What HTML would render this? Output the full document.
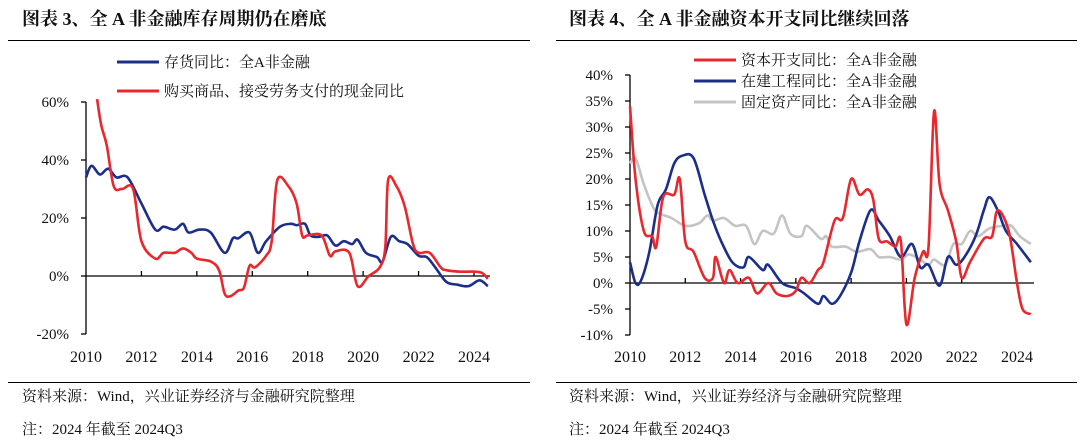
<!DOCTYPE html>
<html><head><meta charset="utf-8"><style>
body{margin:0;background:#fff;width:1080px;height:441px;overflow:hidden}
svg text{font-family:"Liberation Serif","Noto Serif CJK SC","Noto Sans CJK SC",serif;fill:#111}
</style></head><body>
<svg id="s" width="1080" height="441" xmlns="http://www.w3.org/2000/svg">
<text x="22" y="25" font-size="18" font-weight="bold">图表 3、全 A 非金融库存周期仍在磨底</text>
<text x="569" y="25" font-size="18" font-weight="bold">图表 4、全 A 非金融资本开支同比继续回落</text>
<line x1="8" y1="40.5" x2="530" y2="40.5" stroke="#000" stroke-width="1"/>
<line x1="556" y1="40.5" x2="1077" y2="40.5" stroke="#000" stroke-width="1"/>
<line x1="8" y1="382.5" x2="530" y2="382.5" stroke="#000" stroke-width="1"/>
<line x1="556" y1="382.5" x2="1077" y2="382.5" stroke="#000" stroke-width="1"/>
<text x="22" y="401" font-size="15">资料来源：Wind，兴业证券经济与金融研究院整理</text>
<text x="22" y="434" font-size="15">注：2024 年截至 2024Q3</text>
<text x="569" y="401" font-size="15">资料来源：Wind，兴业证券经济与金融研究院整理</text>
<text x="569" y="434" font-size="15">注：2024 年截至 2024Q3</text>
<!-- legends -->
<line x1="117" y1="62" x2="159" y2="62" stroke="#1b2f8a" stroke-width="3"/>
<text x="164" y="67" font-size="15">存货同比：全A非金融</text>
<line x1="117" y1="91" x2="159" y2="91" stroke="#e8282c" stroke-width="3"/>
<text x="164" y="96" font-size="15">购买商品、接受劳务支付的现金同比</text>
<line x1="694" y1="60" x2="736" y2="60" stroke="#e8282c" stroke-width="3"/>
<text x="741" y="65" font-size="15">资本开支同比：全A非金融</text>
<line x1="694" y1="81" x2="736" y2="81" stroke="#1b2f8a" stroke-width="3"/>
<text x="741" y="86" font-size="15">在建工程同比：全A非金融</text>
<line x1="694" y1="102" x2="736" y2="102" stroke="#c4c4c4" stroke-width="3"/>
<text x="741" y="107" font-size="15">固定资产同比：全A非金融</text>
<g id="g"></g>
</svg>
<script>
var g=document.getElementById('g'),NS='http://www.w3.org/2000/svg';
function el(t,a,txt){var e=document.createElementNS(NS,t);for(var k in a)e.setAttribute(k,a[k]);if(txt!=null)e.textContent=txt;g.appendChild(e);return e;}
function chart(c){
 var X=function(yr){return c.x0+(yr-2010)*(c.x1-c.x0)/14;};
 var Y=function(v){return c.y0-v*c.k;};
 el('line',{x1:c.x0,y1:Y(c.vmax),x2:c.x0,y2:Y(c.vmin),stroke:'#000','stroke-width':1.3});
 for(var v=c.vmin;v<=c.vmax;v+=c.step){el('line',{x1:c.x0-5,y1:Y(v),x2:c.x0,y2:Y(v),stroke:'#000','stroke-width':1.3});
  el('text',{x:c.x0-17,y:Y(v)+5,'font-size':15,'text-anchor':'end'},v+'%');}
 el('line',{x1:c.x0,y1:Y(0),x2:c.xe,y2:Y(0),stroke:'#000','stroke-width':1.3});
 for(var yr=2010;yr<=2024;yr+=2){if(yr>2010)el('line',{x1:X(yr),y1:Y(0),x2:X(yr),y2:Y(0)-5,stroke:'#000','stroke-width':1.3});
  el('text',{x:X(yr),y:c.ly,'font-size':16,'text-anchor':'middle'},yr);}
 c.series.forEach(function(s){
  var p=[];for(var i=0;i<s.d.length;i+=2)p.push([X(s.d[i]),Y(s.d[i+1])]);
  var d='M'+p[0][0]+','+p[0][1];
  for(i=0;i<p.length-1;i++){var a=p[Math.max(i-1,0)],b=p[i],e=p[i+1],f=p[Math.min(i+2,p.length-1)];
   d+=' C'+(b[0]+(e[0]-a[0])/6)+','+(b[1]+(e[1]-a[1])/6)+' '+(e[0]-(f[0]-b[0])/6)+','+(e[1]-(f[1]-b[1])/6)+' '+e[0]+','+e[1];}
  el('path',{d:d,fill:'none',stroke:s.c,'stroke-width':2.6,'stroke-linejoin':'round'});
 });
}
var RED='#e8282c',BLUE='#1b2f8a',GRAY='#c4c4c4';
chart({x0:86,x1:474,xe:490,y0:276,k:2.9,vmin:-20,vmax:60,step:20,ly:362,series:[
 {c:BLUE,d:[2010,34,2010.2,38,2010.5,35,2010.8,37,2011.1,34,2011.5,34,2012,25,2012.5,16,2012.8,17,2013.2,16,2013.5,18,2013.7,15,2014.1,16,2014.5,15,2015,8,2015.3,13,2015.5,13,2015.9,15,2016.2,8,2016.5,12,2017,17,2017.4,18,2017.6,17.5,2017.9,18,2018.1,14,2018.4,13.5,2018.7,14,2019,10.5,2019.3,12,2019.6,11,2019.8,12.5,2020.1,8,2020.5,6.5,2020.7,5,2021,13.5,2021.3,12,2021.6,11,2022,7,2022.3,6.5,2022.6,3,2023,-2,2023.4,-3,2023.8,-3.5,2024.2,-1.5,2024.5,-3.5]},
 {c:RED,d:[2010.4,61,2010.55,52,2010.75,45,2011,31,2011.3,30,2011.7,30,2012,12,2012.5,6,2012.8,8,2013.2,8,2013.5,9.5,2013.8,8,2014,6,2014.5,5,2014.8,2,2015,-6,2015.2,-7,2015.5,-5,2015.7,-4,2015.9,3.5,2016.1,3,2016.5,7,2016.7,12,2016.9,33,2017.3,31,2017.6,25,2017.8,14,2018,14,2018.5,14,2018.8,7,2019,8.5,2019.5,8,2019.8,-3.5,2020.2,0,2020.6,3,2020.8,10,2020.9,33,2021.2,31,2021.5,24,2021.8,11,2022,8,2022.4,8,2022.8,3,2023,2,2023.5,1.5,2024,1.5,2024.3,1,2024.5,-1]}]});
chart({x0:630,x1:1017,xe:1034,y0:283,k:5.2,vmin:-10,vmax:40,step:5,ly:362,series:[
 {c:GRAY,d:[2010,23,2010.2,24,2010.5,19,2010.8,15,2011,13.5,2011.5,12.5,2012,11,2012.5,11.5,2012.8,13,2013,12,2013.4,12.5,2013.8,11,2014.2,11,2014.5,7.5,2014.8,10,2015.2,9.5,2015.5,13,2015.8,9.5,2016.2,9,2016.4,11,2016.9,8.5,2017.1,9,2017.3,7,2017.8,7,2018.2,6,2018.7,6.5,2019,5,2019.4,5,2019.8,4.5,2020.1,5.5,2020.5,4.5,2020.8,3.5,2021,4.5,2021.4,3.5,2021.7,7.5,2022,7.5,2022.3,10,2022.6,9,2023,10.5,2023.5,11,2023.8,11,2024.1,9,2024.5,7.5]},
 {c:BLUE,d:[2010,4,2010.2,0,2010.4,0.5,2010.7,6,2011,15,2011.3,18,2011.6,23,2011.9,24.5,2012.3,24,2012.7,17,2013,12,2013.3,8,2013.7,4,2014.1,3,2014.3,5,2014.8,2.5,2015,3.5,2015.5,0,2016,-1,2016.3,-2,2016.8,-4,2017,-2.5,2017.3,-4,2017.6,-2.5,2018,2,2018.3,8,2018.7,14,2019,12,2019.4,9,2019.8,5,2020.2,7.5,2020.5,3,2020.8,3.5,2021.2,-0.5,2021.5,5,2021.8,3.5,2022.1,5,2022.5,9,2022.8,14,2023,16.5,2023.3,14,2023.6,10,2024,7.5,2024.5,4]},
 {c:RED,d:[2010,34,2010.2,20,2010.5,10,2010.8,9,2010.95,7,2011.2,16.5,2011.6,17,2011.8,20,2012,8,2012.3,6,2012.7,1,2013,1,2013.1,5,2013.4,0,2013.6,2.5,2013.9,0,2014.3,1,2014.6,-2,2015,0,2015.3,-2,2015.7,-2.5,2016,-1.5,2016.2,1,2016.5,0,2016.8,2.5,2017,4,2017.4,12,2017.7,12.5,2018,20,2018.3,17,2018.6,18,2018.8,16,2019,8.5,2019.3,8,2019.6,7,2019.8,8,2020,-8,2020.3,1,2020.6,6,2020.8,7,2021,33,2021.2,19,2021.5,14,2021.8,8,2022,1,2022.3,4,2022.8,8.5,2023.1,9,2023.3,14,2023.7,10,2024,0,2024.2,-5,2024.5,-6]}]});
</script>
</body></html>
